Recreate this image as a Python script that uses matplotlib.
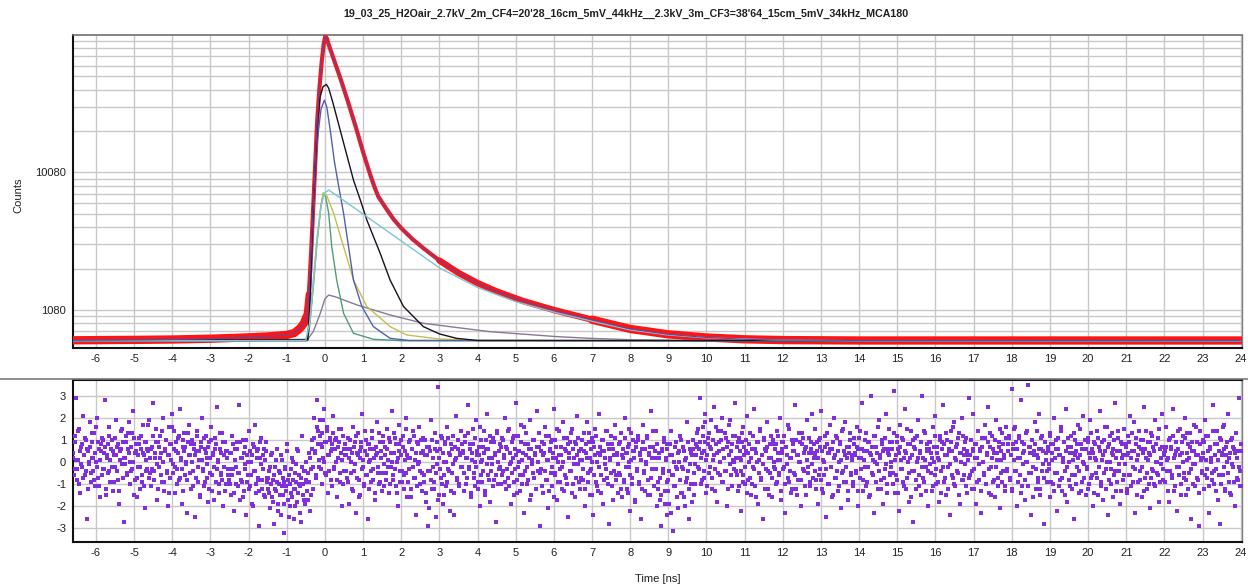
import numpy as np
import matplotlib
matplotlib.use("Agg")
import matplotlib.pyplot as plt
from matplotlib.lines import Line2D

plt.rcParams['font.family'] = ['Liberation Sans', 'DejaVu Sans']

TITLE = "19_03_25_H2Oair_2.7kV_2m_CF4=20'28_16cm_5mV_44kHz__2.3kV_3m_CF3=38'64_15cm_5mV_34kHz_MCA180"
X_TICKS = list(range(-6, 25))
Y_TICKS = [1000, 10000]
Y_TICK_LABELS = ["1080", "10080"]
RES_TICKS = [-3, -2, -1, 0, 1, 2, 3]
T_MIN, T_MAX = -6.6, 24.02

# measured decay (red points) and total fit
DATA_T = [-6.6, -5.0, -4.0, -3.0, -2.0, -1.5, -1.0, -0.8, -0.65, -0.55,
          -0.48, -0.42, -0.36, -0.3, -0.25, -0.2, -0.14, -0.08, -0.03, 0.01,
          0.05, 0.1, 0.2, 0.3, 0.4, 0.5, 0.6, 0.7, 0.8, 0.9,
          1.0, 1.1, 1.2, 1.3, 1.4, 1.6, 1.8, 2.0, 2.3, 2.6,
          3.0, 3.5, 4.0, 4.5, 5.2, 6.0, 7.0, 8.0, 9.0, 10.0,
          11.0, 12.0, 14.0, 18.0, 24.0]
DATA_COUNTS = [602, 606, 610, 618, 632, 642, 658, 680, 736, 800,
               894, 1300, 2600, 6000, 12000, 24000, 42000, 65000, 86000, 98000,
               95000, 85100, 70800, 58900, 49000, 40300, 33100, 26900, 21900, 17600,
               14100, 11500, 9440, 7850, 6680, 5500, 4570, 3940, 3270, 2790,
               2290, 1860, 1570, 1365, 1160, 1000, 850, 728, 665, 631,
               612, 604, 600, 600, 600]

# fit components
BLACK_T = [-6.6, -0.45, -0.4, -0.35, -0.3, -0.25, -0.2, -0.13, -0.05, 0.04, 0.1, 0.2, 0.4, 0.75, 0.93, 1.1, 1.45, 1.71, 2.06, 2.58, 3.0, 3.45, 4.0, 24.0]
BLACK_V = [595, 610, 1000, 2500, 6000, 11000, 22000, 35000, 42000, 43700, 41000, 33000, 20400, 8800, 6300, 4510, 2580, 1650, 1060, 757, 670, 622, 600, 595]

BLUE_T = [-6.6, -0.45, -0.4, -0.35, -0.3, -0.25, -0.2, -0.1, -0.01, 0.05, 0.14, 0.25, 0.36, 0.49, 0.62, 0.75, 0.97, 1.27, 1.71, 2.2, 24.0]
BLUE_V = [595, 600, 900, 2000, 5000, 10000, 17000, 29000, 33600, 30000, 20400, 12000, 8000, 5050, 2890, 1650, 1060, 757, 622, 600, 595]

CYAN_T = [-6.6, -0.5, -0.4, -0.3, -0.2, -0.1, 0.0, 0.1, 0.84, 1.71, 2.14, 3.02, 4.0, 5.0, 6.0, 7.0, 8.0, 9.0, 10.0, 12.0, 14.0, 24.0]
CYAN_V = [595, 600, 800, 1700, 3500, 5800, 7100, 7460, 5360, 3620, 2985, 2010, 1460, 1150, 965, 828, 716, 658, 627, 603, 597, 595]

YELLOW_T = [-6.6, -0.5, -0.4, -0.3, -0.2, -0.1, -0.04, 0.05, 0.23, 0.49, 0.62, 0.75, 1.1, 1.71, 2.14, 3.0, 4.0, 24.0]
YELLOW_V = [595, 600, 800, 1600, 3300, 5800, 7060, 6800, 5050, 2890, 2190, 1650, 1060, 757, 658, 615, 600, 595]

GREEN_T = [-6.6, -0.45, -0.4, -0.3, -0.2, -0.1, -0.04, 0.02, 0.1, 0.18, 0.31, 0.49, 0.75, 1.27, 2.0, 24.0]
GREEN_V = [595, 600, 750, 1500, 3200, 5800, 7100, 6700, 5050, 2890, 1650, 946, 677, 612, 598, 595]

PURPLE_T = [-6.6, -0.5, -0.43, -0.3, -0.12, 0.0, 0.1, 0.3, 0.84, 1.71, 2.58, 4.33, 6.08, 6.95, 8.0, 10.0, 24.0]
PURPLE_V = [595, 598, 622, 700, 946, 1200, 1285, 1240, 1088, 920, 800, 695, 640, 622, 608, 598, 595]

# weighted residuals: even channels (A) and odd channels (B), T_MIN .. T_MAX
RESID_A = [
 0.4,-0.3,1.2,2.9,-0.8,0.1,1.5,-1.4,0.7,-0.2,2.1,0.3,-0.6,1.0,-2.6,0.5,-0.1,1.8,-0.9,0.2,0.9,-0.4,1.3,-1.1,0.0,2.0,-0.7,0.6,-1.6,0.8,1.1,-0.3,0.4,2.8,-1.2,0.2,-0.5,1.6,0.1,-0.9,
 1.0,-1.3,0.3,-0.2,1.9,0.7,-0.8,-1.9,0.5,1.4,-0.1,0.9,-2.7,0.2,1.2,-0.6,0.6,1.8,-1.0,0.0,-0.4,1.3,2.3,-1.5,0.4,0.8,-0.7,-0.2,1.1,-1.2,0.6,-0.9,1.7,0.3,-2.1,0.9,-0.3,0.5,1.9,-0.5,
 -1.1,0.7,2.7,-0.4,0.2,1.5,-1.7,0.9,-0.2,1.2,0.4,-0.9,2.0,-1.3,0.6,1.0,-0.5,-2.0,0.3,1.6,-0.7,0.8,2.2,-0.1,1.4,-1.4,0.5,-0.3,1.1,-0.8,2.4,0.1,-1.9,0.7,1.3,-0.6,0.0,-2.3,0.9,1.7,
 0.3,-1.2,1.0,-0.4,0.8,-2.5,0.5,1.4,-0.9,0.1,-1.6,0.7,2.0,-0.3,-1.1,0.6,1.2,-0.7,0.2,-1.8,0.9,-0.5,1.6,-1.3,0.4,-0.2,1.1,-0.9,2.5,0.0,-1.4,0.6,-0.6,1.3,-2.0,0.3,0.9,-1.0,0.5,-0.3,
 -0.8,0.4,-1.5,1.2,-0.3,-2.2,0.6,-1.0,0.9,-0.5,2.6,-1.7,0.2,-0.9,1.0,-1.3,-0.1,0.7,-2.4,0.3,-0.6,1.4,-1.1,0.0,-1.9,0.8,-0.4,1.7,-1.4,0.5,-0.8,-2.9,0.2,1.1,-1.2,-0.3,0.6,-1.6,0.9,-0.7,
 -1.2,-0.4,-2.1,0.3,-1.6,-0.8,-2.8,-0.2,-1.3,0.6,-1.9,-1.0,-0.5,-2.4,0.1,-1.5,-0.9,-3.2,-0.3,-1.1,0.8,-1.7,-0.6,-2.0,-1.4,0.2,-0.8,-2.6,-1.2,-0.1,-1.8,0.5,-1.0,-2.3,-0.7,1.2,-1.5,-0.4,-1.9,0.0,
 -0.9,-1.7,0.4,-2.2,-0.3,1.0,-1.2,2.0,0.5,-0.6,2.8,1.4,-0.2,1.9,0.8,-1.0,1.3,0.2,2.4,-0.5,0.9,1.6,-1.4,0.3,1.1,-0.8,0.6,2.1,-0.3,1.0,0.0,-1.6,0.7,1.5,-0.9,0.4,-2.0,1.2,-0.4,0.8,
 0.3,-0.7,1.1,-1.9,0.6,0.0,-1.2,1.6,-0.4,0.9,-2.3,0.4,1.3,-0.8,0.2,-1.5,0.7,2.2,-0.2,-1.1,0.5,1.0,-0.6,-2.6,0.8,0.1,-0.9,1.4,-0.3,0.6,-1.7,0.3,1.8,-0.5,-1.0,0.9,0.2,-1.3,1.2,-0.1,
 0.7,-0.5,1.5,0.1,-1.4,0.9,-0.2,2.3,-0.8,0.4,1.1,-1.1,0.0,-2.0,0.8,1.7,-0.4,0.3,-0.9,1.2,-0.6,0.5,2.0,-1.6,0.2,-0.3,1.0,-1.2,0.6,1.4,-0.7,0.1,-2.4,0.9,-0.1,1.6,-1.0,0.4,-0.5,1.1,
 -0.6,1.0,-1.8,0.3,-2.9,0.7,-0.4,1.9,-1.2,0.2,-0.9,1.3,-2.5,0.5,-0.1,3.4,-1.5,0.6,-0.7,1.1,-1.9,0.0,0.9,-1.1,1.6,-0.3,0.4,-2.2,0.8,-0.5,1.2,-1.4,0.1,2.1,-0.8,0.6,-1.0,0.3,1.4,-0.2,
 0.5,-1.3,1.2,0.2,-0.7,2.6,-0.2,0.8,-1.6,0.4,1.5,-0.5,0.0,-1.1,1.9,0.3,-0.9,0.7,-2.0,1.0,0.1,-0.4,1.4,-1.3,0.6,2.2,-0.6,0.2,-1.8,0.9,-0.1,1.1,-0.8,0.4,-2.7,1.3,0.0,-0.3,0.8,-1.0,
 1.1,-0.4,0.3,2.0,-1.2,0.6,-0.7,1.5,-0.1,-1.9,0.9,0.2,-0.9,1.2,-0.3,2.7,-1.4,0.5,0.0,-0.6,1.7,-1.0,0.4,-2.3,0.8,1.3,-0.2,-0.8,0.6,1.9,-1.5,0.1,-0.5,1.0,0.3,-1.2,2.3,-0.4,0.7,-2.9,
 -0.3,0.9,-1.4,0.4,1.6,-0.8,0.1,-2.1,1.2,0.5,-0.5,1.0,-1.1,0.2,2.4,-0.6,0.7,-1.7,0.0,1.4,-0.9,0.3,-0.2,1.8,-1.3,0.6,-0.7,1.1,-2.5,0.4,0.9,-0.4,1.5,-1.0,0.2,-1.6,0.8,2.1,-0.1,0.5,
 -1.2,0.6,0.1,-0.8,1.3,-2.0,0.4,1.8,-0.5,0.9,-1.5,0.2,-0.3,1.1,-2.4,0.7,1.5,-0.9,0.0,-1.3,2.2,0.3,-0.6,1.0,-1.9,0.5,-0.1,1.4,-0.7,0.8,-2.8,0.2,1.2,-1.1,0.6,-0.4,1.7,-0.8,0.3,-1.4,
 0.8,-0.6,1.3,-1.6,0.2,-0.9,2.0,0.4,-1.2,0.7,-0.2,1.5,-2.2,0.1,-0.7,1.0,0.5,-1.8,0.9,-0.4,1.2,-1.0,0.3,-2.6,0.6,1.7,-0.5,-1.3,0.0,1.1,-0.8,0.4,-1.5,2.3,-0.3,0.7,-1.1,0.2,1.4,-2.0,
 -0.9,0.4,-1.7,-2.9,0.6,-0.5,1.1,-1.3,0.2,-2.4,0.8,-0.8,-1.9,0.3,1.4,-0.6,-3.1,0.0,-1.1,0.9,-0.3,-2.1,0.5,1.2,-1.4,-0.2,0.7,-1.6,0.1,-0.9,1.8,-0.4,-2.6,0.6,-1.0,0.3,1.0,-1.5,-0.1,0.8,
 1.3,-0.2,0.6,2.9,-1.0,0.4,1.6,-0.7,0.9,2.2,-1.4,0.3,1.1,-0.5,0.7,1.9,-1.2,0.1,2.5,-0.3,0.8,-1.8,1.4,0.5,-0.6,1.0,2.0,-0.9,0.2,1.3,-0.4,-2.0,0.9,1.7,-0.1,0.5,-1.1,1.2,0.0,2.7,
 -0.4,0.7,-1.3,1.1,0.2,-2.2,0.9,-0.6,1.6,0.3,-1.0,0.5,2.1,-0.8,0.0,1.3,-1.5,0.6,-0.2,2.4,-1.1,0.4,0.9,-1.9,0.1,1.5,-0.7,0.3,-2.6,1.0,0.6,-0.3,1.8,-1.2,0.2,-0.5,1.2,-1.6,0.8,0.0,
 0.6,-1.0,1.4,0.1,-0.6,2.0,-1.7,0.4,0.9,-0.3,1.2,-2.3,0.7,-0.1,1.7,-0.9,0.2,-1.4,1.0,0.5,-0.5,2.6,-1.2,0.3,-0.8,1.3,0.0,-2.0,0.8,1.1,-0.4,0.6,-1.5,1.9,-0.2,0.4,-1.1,0.9,2.2,-0.7,
 0.2,1.5,-0.8,0.5,-1.9,1.0,-0.3,0.7,2.3,-1.2,0.1,-0.6,1.2,-2.5,0.8,0.4,-1.0,1.7,-0.2,0.6,-1.5,2.0,0.3,-0.7,1.1,-1.3,0.0,0.9,-2.1,1.4,-0.4,0.5,1.8,-0.9,0.2,-1.7,0.7,1.3,-0.5,0.1,
 -1.1,0.8,0.3,-0.4,1.6,-2.0,0.6,1.1,-0.7,0.2,2.7,-1.3,0.5,-0.2,1.3,-0.9,0.9,-1.6,0.4,3.0,-0.5,0.1,-2.3,1.2,0.7,-0.1,-1.2,1.9,0.3,-0.8,1.0,-1.9,0.6,-0.3,2.2,-1.0,0.4,1.5,-0.6,0.0,
 0.9,-0.5,3.2,-1.4,0.3,1.2,-0.8,0.6,-2.2,1.7,0.1,-0.3,1.0,-1.1,2.4,0.4,-0.7,0.8,-1.8,0.2,1.4,-0.4,-2.7,0.7,1.1,-1.2,0.0,1.9,-0.6,0.5,-1.5,3.0,0.2,-0.9,1.3,-0.2,0.6,-2.0,0.9,-0.1,
 0.4,-1.3,1.6,0.0,-0.6,2.1,-1.0,0.7,0.2,-1.8,1.2,-0.4,0.9,2.6,-0.9,0.3,-1.5,1.0,-0.2,0.6,-2.4,1.4,0.5,-0.7,1.8,-1.1,0.1,0.8,-0.5,1.3,-1.9,0.4,2.0,-0.8,0.6,-0.1,1.1,-1.4,0.3,2.9,
 -0.6,1.0,-1.2,0.5,2.2,-0.3,0.8,-1.9,0.2,1.4,-0.8,0.6,-2.3,1.1,0.0,-0.5,1.7,-1.0,0.3,2.5,-1.4,0.7,-0.2,1.2,-0.9,0.4,-1.6,1.9,0.1,-0.7,0.9,-2.1,0.5,1.3,-0.4,0.2,-1.1,1.6,-0.3,0.8,
 1.2,-0.8,0.3,3.3,-1.3,0.6,1.5,-0.4,0.9,-2.0,0.2,1.1,-0.6,2.8,-1.1,0.4,0.8,-1.7,0.0,1.4,3.5,-0.5,0.7,-2.4,1.0,-0.2,0.5,1.8,-1.2,0.3,-0.7,2.2,-1.5,0.6,1.2,-0.1,-2.8,0.9,0.4,-0.9,
 0.5,-0.3,1.3,-1.6,0.8,0.1,-1.0,2.0,-0.5,0.6,-2.2,1.1,0.3,-0.8,1.6,-1.3,0.2,0.9,-0.4,2.4,-1.8,0.7,0.0,-1.1,1.2,-0.6,0.4,-2.6,1.0,0.5,-0.2,1.7,-1.4,0.3,0.8,-0.9,2.1,-0.1,0.6,-1.5,
 -0.2,1.1,-1.2,0.4,1.9,-0.7,0.6,-2.0,0.9,0.2,-0.5,1.4,-1.5,0.7,2.3,-0.9,0.1,-1.7,1.0,0.5,-0.3,1.6,-2.4,0.8,0.0,-1.0,1.3,0.3,-0.6,2.7,-1.3,0.5,1.1,-0.4,-1.9,0.9,0.2,-0.8,1.5,-0.1,
 0.7,-1.4,0.3,1.2,-0.6,2.1,-1.1,0.5,-0.2,1.8,-2.3,0.8,0.1,-0.9,1.4,-0.4,0.6,-1.6,1.0,2.5,-0.7,0.2,-1.2,0.9,0.4,-2.1,1.3,-0.3,0.7,-1.0,1.9,0.0,-0.5,1.1,-1.8,0.6,-0.1,2.2,-0.8,0.3,
 -0.9,0.5,1.6,-0.4,0.2,-1.8,1.1,0.7,-0.6,2.4,-1.3,0.3,0.9,-2.2,0.6,-0.2,1.5,-1.0,0.4,1.2,-0.7,2.0,-1.5,0.1,0.8,-0.5,1.3,-2.6,0.5,-0.1,1.7,-1.1,0.3,0.9,-0.8,-2.9,1.4,0.2,-0.4,1.0,
 0.4,-1.2,1.9,0.1,-0.7,1.2,-2.3,0.6,0.2,-0.5,2.6,-1.0,0.8,-0.3,1.4,-1.7,0.5,-2.8,1.0,0.3,-0.6,1.7,-1.3,0.7,0.0,2.2,-0.9,0.4,-1.5,1.1,-0.2,0.6,-2.0,1.3,0.2,-0.8,2.9,-0.4,0.5,-1.1,
]
RESID_B = [
 0.2,-0.6,0.9,0.1,-0.3,1.4,-1.0,0.5,-0.1,0.8,-0.7,0.3,1.1,-0.4,0.6,-1.2,0.0,0.7,-0.5,1.3,0.2,-0.8,0.4,1.6,-0.2,0.9,-1.1,0.1,0.5,-0.6,1.0,-0.3,0.7,-1.5,0.3,0.8,-0.4,1.2,-0.9,0.6,
 -0.2,0.5,-0.9,1.1,0.3,-0.4,0.8,-1.3,0.1,0.6,1.5,-0.7,0.2,-0.1,0.9,-0.5,1.3,0.4,-1.0,0.7,-0.3,0.0,1.1,-0.8,0.5,-1.6,0.3,0.8,-0.2,1.2,-0.6,0.4,-1.1,0.9,0.1,-0.4,0.6,1.7,-0.7,0.2,
 0.6,-0.3,1.2,-0.8,0.4,0.9,-0.1,-1.2,0.7,0.2,-0.6,1.4,0.0,-0.9,0.5,1.0,-0.4,0.3,-1.4,0.8,0.1,1.6,-0.5,0.6,-0.2,0.9,-1.0,0.4,1.2,-0.7,0.2,-0.3,1.0,-1.3,0.5,0.7,-0.1,-0.8,1.3,0.3,
 -0.5,0.8,0.0,-1.1,0.6,0.3,-0.7,1.2,-0.2,0.5,-1.5,0.9,0.1,-0.4,1.1,-0.9,0.4,-0.1,0.7,-1.2,0.2,1.0,-0.6,0.3,-1.7,0.6,0.8,-0.3,0.1,-1.0,1.3,-0.5,0.4,-0.8,0.9,-0.2,-1.3,0.5,0.2,-0.6,
 -0.3,-1.0,0.4,-0.6,0.8,-1.4,0.1,-0.2,0.6,-1.1,-0.5,0.9,-0.8,0.2,-1.6,0.4,-0.3,1.0,-0.9,0.0,-1.2,0.5,-0.6,0.3,-2.0,0.7,-0.4,-1.0,0.2,0.6,-0.7,-1.3,0.9,-0.1,-0.8,0.3,-1.5,0.1,0.5,-0.9,
 -0.7,-1.4,-0.2,-1.0,0.4,-1.8,-0.6,-1.2,0.1,-0.9,-2.2,-0.4,-1.5,0.3,-1.1,-0.7,-1.9,-0.2,-1.3,0.5,-0.8,-2.5,-1.0,-0.3,-1.6,0.0,-1.2,-0.5,-2.0,-0.9,0.6,-1.4,-0.6,-1.1,-2.7,-0.2,-1.0,-1.7,-0.4,-0.8,
 -1.3,-0.5,-0.9,0.2,-1.5,0.6,-0.2,1.1,0.4,-0.7,1.6,0.8,0.1,1.2,-0.3,0.7,1.9,0.0,0.9,-0.6,1.4,0.3,-0.4,1.0,0.5,-1.1,0.8,1.3,-0.2,0.6,1.1,-0.8,0.2,0.9,-0.5,1.5,0.1,-1.0,0.6,0.3,
 -0.4,0.6,-0.9,0.2,1.0,-0.5,0.4,-1.3,0.7,-0.1,1.2,-0.7,0.3,-1.6,0.5,0.9,-0.3,0.1,-1.0,1.4,-0.6,0.3,0.8,-1.2,0.0,0.6,-0.4,1.1,-0.8,0.2,-1.4,0.7,0.4,-0.2,1.3,-0.9,0.5,-0.5,0.9,-1.1,
 0.3,-0.8,0.6,-0.2,1.1,-1.0,0.4,0.0,-0.6,1.3,-0.3,0.8,-1.4,0.2,0.5,-0.9,1.0,-0.4,0.7,-1.2,0.1,1.5,-0.5,0.3,-0.9,0.9,0.2,-1.6,0.6,-0.2,1.2,-0.7,0.4,-1.1,0.8,0.0,-0.4,1.0,-1.3,0.5,
 -0.9,0.3,-1.4,0.7,-0.4,-2.1,0.5,-0.8,1.0,-0.2,-1.2,0.6,-0.5,0.9,-1.7,0.2,-0.3,1.2,-1.0,0.4,-0.6,-1.5,0.8,0.0,-0.9,1.1,-0.4,0.3,-1.3,0.6,-0.1,-2.4,0.7,0.2,-0.7,1.0,-1.1,0.4,-0.2,0.8,
 0.4,-0.5,0.9,-1.0,0.2,1.3,-0.3,0.6,-1.4,0.1,0.8,-0.7,1.1,-0.2,0.5,-1.2,0.3,1.6,-0.6,0.0,-0.9,0.7,0.4,-1.5,1.0,-0.1,0.6,-0.8,1.2,-0.4,0.2,-1.1,0.9,0.3,-0.6,1.4,-1.0,0.5,-0.2,0.7,
 -0.6,1.0,0.2,-0.9,0.7,-0.3,1.4,-1.1,0.4,0.0,-0.5,1.1,-1.5,0.6,0.3,-0.8,1.2,-0.2,0.5,-1.3,0.9,0.1,-0.6,1.6,-0.4,0.3,-1.0,0.8,0.2,-1.7,0.6,-0.1,1.0,-0.7,0.4,-1.2,0.7,0.0,1.3,-0.5,
 0.5,-1.1,0.3,0.8,-0.4,1.2,-0.8,0.1,-1.3,0.6,0.9,-0.2,0.4,-1.6,1.0,-0.5,0.2,1.5,-0.9,0.3,-0.3,0.7,-1.2,0.0,1.1,-0.6,0.5,-1.0,0.8,0.2,-0.4,1.3,-1.4,0.6,-0.1,0.9,-0.7,0.3,1.1,-0.9,
 0.1,-0.7,1.0,-0.3,0.5,-1.2,0.8,0.2,-0.9,1.3,-0.4,0.6,-1.5,0.0,0.9,-0.6,0.3,1.2,-1.1,0.4,-0.2,0.7,-1.4,0.5,1.0,-0.8,0.2,-0.3,1.4,-1.0,0.6,0.1,-0.5,0.8,-1.7,0.3,1.1,-0.6,0.4,-0.1,
 -0.5,0.9,-1.2,0.3,0.6,-0.8,1.1,-0.2,0.4,-1.4,0.8,0.0,-0.6,1.3,-1.0,0.5,0.2,-1.7,0.7,-0.3,1.0,-0.9,0.4,0.1,-1.2,0.9,-0.4,0.6,-0.1,1.2,-1.5,0.3,0.7,-0.7,0.2,1.4,-1.1,0.5,-0.3,0.8,
 -1.2,0.2,-0.7,-1.5,0.5,-0.3,0.9,-1.9,0.1,-0.9,0.6,-1.3,-0.4,0.8,-2.3,0.3,-0.6,-1.1,0.7,-0.2,-1.6,0.4,0.0,-0.8,1.0,-1.4,-0.3,0.5,-2.0,0.2,-0.7,0.9,-1.2,-0.1,0.4,-1.8,0.6,-0.5,-1.0,0.3,
 0.7,1.5,-0.3,0.9,0.2,-0.8,1.2,0.5,-0.4,1.8,0.1,-1.1,0.8,1.3,-0.2,0.6,-0.7,1.0,0.3,-1.3,1.6,0.4,-0.5,0.9,0.0,1.4,-0.9,0.6,0.2,-0.4,1.1,0.7,-1.2,0.3,1.9,-0.6,0.8,0.1,-0.3,1.2,
 0.2,-0.6,0.9,-1.1,0.5,0.1,-0.4,1.3,-0.9,0.7,-0.2,1.0,-1.4,0.4,0.8,-0.7,0.2,-1.0,1.2,-0.3,0.6,-1.6,0.0,0.9,-0.5,1.4,-0.8,0.3,-0.1,1.1,-1.2,0.5,0.7,-0.4,-1.5,0.8,0.2,-0.7,1.0,-0.2,
 -0.3,0.8,-0.9,0.4,1.2,-0.5,0.1,-1.3,0.6,0.9,-0.2,-1.0,0.7,0.3,-0.7,1.5,-0.4,0.2,-1.2,0.8,0.5,-0.6,1.0,-1.5,0.3,0.0,0.9,-0.8,1.3,-0.3,0.4,-1.1,0.7,0.1,-0.5,1.1,-0.9,0.6,-0.1,0.4,
 0.8,-0.4,0.3,-1.2,0.9,0.2,-0.6,1.1,-0.8,0.5,-1.4,0.0,0.7,-0.3,1.3,-1.0,0.4,0.6,-0.2,-1.6,0.9,0.2,-0.7,1.2,-0.4,0.5,-1.1,0.8,0.1,-0.5,1.5,-0.9,0.3,-0.2,0.7,-1.3,0.4,1.0,-0.6,0.2,
 0.3,-0.9,1.1,0.4,-0.5,0.7,-1.3,0.2,1.4,-0.3,0.6,-0.8,0.1,1.0,-1.1,0.5,-0.2,0.9,-1.5,0.3,0.7,-0.6,1.2,0.0,-0.9,0.4,1.6,-0.4,0.2,-1.2,0.8,0.5,-0.7,1.1,-0.1,-1.4,0.6,0.3,-0.5,0.9,
 -0.2,0.6,-1.0,1.3,0.1,-0.6,0.9,-1.4,0.4,0.7,-0.3,1.1,-0.9,0.2,0.5,-1.2,1.5,0.0,-0.5,0.8,-1.6,0.3,1.0,-0.4,0.6,-0.8,1.2,0.2,-1.1,0.4,0.9,-0.2,-0.7,1.4,0.1,-1.3,0.5,0.8,-0.4,0.6,
 0.9,-0.5,0.2,-1.1,0.7,1.2,-0.3,0.4,-0.9,0.1,1.0,-1.4,0.6,-0.2,0.8,-0.7,1.3,0.3,-1.2,0.5,-0.1,0.9,-0.6,1.6,-1.0,0.2,0.7,-0.4,1.1,-1.5,0.4,0.0,-0.8,1.2,0.3,-0.6,0.9,-1.1,0.5,0.1,
 -0.7,0.3,1.0,-0.4,0.6,-1.2,0.2,0.8,-0.9,1.4,-0.1,0.5,-1.3,0.7,0.0,-0.6,1.1,-1.0,0.4,0.9,-0.3,1.3,-1.5,0.2,0.6,-0.8,1.0,-0.2,0.4,-1.1,0.7,1.5,-0.5,0.1,-0.9,0.8,0.3,-1.3,1.1,-0.4,
 0.5,1.1,-0.7,0.3,-1.2,0.8,0.1,1.6,-0.4,0.6,-0.9,1.2,0.2,-1.4,0.9,-0.1,0.5,-0.8,1.3,0.0,-1.1,0.7,0.4,-0.5,1.0,-1.6,0.3,0.8,-0.3,1.4,-0.9,0.2,0.6,-1.2,1.1,-0.4,0.5,-0.7,0.9,0.1,
 -0.4,0.7,-0.1,1.2,-0.9,0.4,0.8,-1.3,0.2,1.0,-0.5,0.6,-1.1,0.3,1.4,-0.7,0.0,0.9,-1.5,0.5,-0.2,1.1,-0.8,0.4,0.7,-1.2,0.1,1.3,-0.6,0.3,-1.0,0.8,0.2,-0.4,1.5,-1.3,0.6,0.0,-0.7,1.0,
 0.6,-0.3,0.9,-1.0,0.2,1.3,-0.6,0.4,-1.4,0.8,0.1,-0.7,1.1,-0.2,0.5,-1.1,0.9,0.3,-0.5,1.6,-1.2,0.0,0.7,-0.8,1.2,-0.3,0.4,-1.6,0.6,1.0,-0.4,0.2,-0.9,1.4,-0.1,0.5,-1.3,0.8,0.3,-0.6,
 -0.1,0.8,-1.2,0.4,0.9,-0.6,0.2,1.3,-0.9,0.5,-0.3,1.1,-1.5,0.3,0.7,-0.8,1.0,-0.2,0.4,-1.3,0.6,1.4,-0.5,0.1,-1.0,0.9,0.3,-0.7,1.2,-0.4,0.5,-1.1,0.8,0.0,-0.6,1.5,-0.9,0.2,0.7,-0.3,
 0.4,-0.9,0.7,0.1,-1.3,1.0,-0.4,0.6,-0.7,1.2,0.2,-1.1,0.5,-0.2,1.4,-0.6,0.3,-1.5,0.9,0.0,-0.5,1.1,-0.8,0.4,1.3,-1.2,0.2,0.7,-0.3,0.9,-1.0,0.5,-0.1,1.6,-0.7,0.3,-1.4,0.8,0.1,-0.5,
 0.2,0.9,-0.6,1.2,-0.3,0.5,-1.1,0.7,0.0,-0.8,1.4,-0.4,0.3,-1.3,0.8,0.1,-0.6,1.1,-1.0,0.4,1.6,-0.2,0.6,-1.2,0.3,0.9,-0.5,0.2,-1.4,1.0,-0.1,0.7,-0.9,0.4,1.3,-0.7,0.5,-0.2,-1.1,0.8,
]

W, H = 1248, 587
fig = plt.figure(figsize=(W / 100, H / 100), dpi=100)
fig.patch.set_facecolor('white')

L, R = 73, 1241.5
ax1 = fig.add_axes([L / W, 1 - 348 / H, (R - L) / W, (348 - 35) / H])
ax2 = fig.add_axes([L / W, 1 - 542 / H, (R - L) / W, (542 - 380) / H])

GRID = '#c8c8c8'
TICKFS = 8

# ---- top panel
ax1.set_yscale('log')
ax1.set_xlim(T_MIN, T_MAX)
ax1.set_ylim(529, 100000)
ax1.set_xticks(X_TICKS)
ax1.set_xticklabels([str(v) for v in X_TICKS])
ax1.set_yticks(Y_TICKS)
ax1.set_yticklabels(Y_TICK_LABELS)
minor = [m * d for d in (100, 1000, 10000) for m in range(2, 10) if 529 < m * d < 100000]
ax1.set_yticks(minor, minor=True)
ax1.yaxis.set_minor_formatter(matplotlib.ticker.NullFormatter())
ax1.grid(True, which='both', color=GRID, lw=1.0)
ax1.set_axisbelow(True)

data_t = np.array(DATA_T)
data_c = np.array(DATA_COUNTS, dtype=float)
red = '#ff1414'
ax1.plot(data_t, data_c, color=red, lw=3.0, solid_capstyle='round',
         solid_joinstyle='round', zorder=3)
mid = np.where(data_c < 2500, data_c, np.nan)
ax1.plot(data_t, mid, color=red, lw=4.6, solid_capstyle='round',
         solid_joinstyle='round', zorder=3)
low = np.where(data_c < 1000, data_c, np.nan)
ax1.plot(data_t, low, color=red, lw=6.0, solid_capstyle='round',
         solid_joinstyle='round', zorder=3)

ax1.plot(PURPLE_T, PURPLE_V, color='#8a7896', lw=1.0, zorder=4)
ax1.plot(GREEN_T, GREEN_V, color='#4f9e78', lw=1.0, zorder=4)
ax1.plot(YELLOW_T, YELLOW_V, color='#c4c04c', lw=1.0, zorder=4)
ax1.plot(BLUE_T, BLUE_V, color='#5060b0', lw=1.0, zorder=4)
ax1.plot(BLACK_T, BLACK_V, color='#1a1020', lw=1.0, zorder=4)
ax1.plot(CYAN_T, CYAN_V, color='#7cc4d8', lw=1.0, zorder=4)
ax1.plot(data_t, data_c, color='#5a4aa8', lw=0.8, zorder=6)

# ---- bottom panel
res_ta = np.linspace(T_MIN, T_MAX, len(RESID_A))
res_tb = np.linspace(T_MIN + 0.012, T_MAX - 0.012, len(RESID_B))
ax2.set_xlim(T_MIN, T_MAX)
ax2.set_ylim(-3.62, 3.72)
ax2.set_xticks(X_TICKS)
ax2.set_xticklabels([str(v) for v in X_TICKS])
ax2.set_yticks(RES_TICKS)
ax2.set_yticklabels([str(v) for v in RES_TICKS])
ax2.grid(True, color=GRID, lw=1.0)
ax2.set_axisbelow(True)
for tt, rr in ((res_ta, RESID_A), (res_tb, RESID_B)):
    ax2.plot(tt, rr, ls='none', marker='s', ms=2.2, mew=0,
             color='#7f30dc', zorder=3)

for ax in (ax1, ax2):
    ax.tick_params(axis='both', which='both', length=0, labelsize=TICKFS,
                   colors='#202020')
    ax.tick_params(axis='x', pad=4)
    ax.tick_params(axis='y', pad=5)
    for s in ('left', 'bottom'):
        ax.spines[s].set_color('#101010')
        ax.spines[s].set_linewidth(1.5)
    ax.spines['right'].set_color('#808080')
    ax.spines['right'].set_linewidth(1.0)
ax1.spines['top'].set_color('#707070')
ax1.spines['top'].set_linewidth(1.2)
ax2.spines['top'].set_color('#101010')
ax2.spines['top'].set_linewidth(1.5)

# separator between panels
fig.add_artist(Line2D([0, 1], [1 - 378.5 / H, 1 - 378.5 / H],
                      transform=fig.transFigure, color='#7a7a7a', lw=1.2))

fig.text(0.502, 1 - 14 / H, TITLE, ha='center', va='center', fontsize=7.7,
         fontweight='bold', color='#202020')
fig.text(18 / W, 1 - 195 / H, 'Counts', rotation=90, ha='center', va='center',
         fontsize=8, color='#202020')
fig.text(658 / W, 1 - 579 / H, 'Time [ns]', ha='center', va='center',
         fontsize=8, color='#202020')

fig.savefig('out.png', dpi=100, facecolor='white')
